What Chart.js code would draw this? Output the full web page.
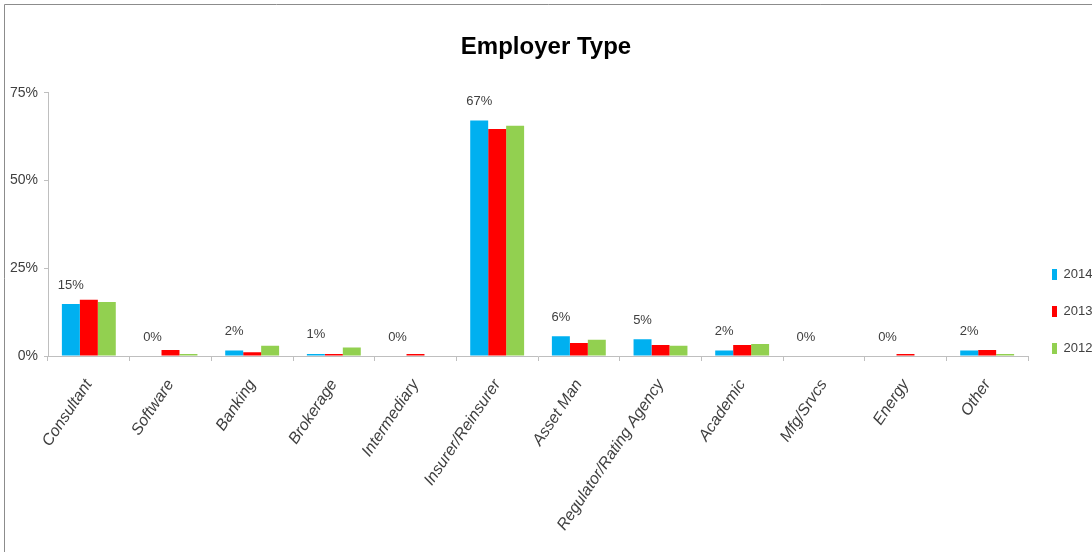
<!DOCTYPE html>
<html>
<head>
<meta charset="utf-8">
<script src="https://cdn.jsdelivr.net/npm/chart.js@4.4.1/dist/chart.umd.min.js"></script>
<style>
  html, body { margin: 0; padding: 0; background: #fff; }
  #wrap { width: 1092px; height: 552px; position: relative; }
</style>
</head>
<body>
<div id="wrap"><canvas id="grafico" width="1092" height="552"></canvas></div>
<script>
const categorias = ["Consultant", "Software", "Banking", "Brokerage", "Intermediary", "Insurer/Reinsurer",
    "Asset Man", "Regulator/Rating Agency", "Academic", "Mfg/Srvcs", "Energy", "Other"];
const anios = ["2014", "2013", "2012"];
const valores2014 = [14.8, 0, 1.6, 0.6, 0, 67.1, 5.6, 4.8, 1.6, 0, 0, 1.6];
const valores2013 = [16.0, 1.7, 1.1, 0.6, 0.6, 64.7, 3.7, 3.1, 3.1, 0, 0.6, 1.7];
const valores2012 = [15.4, 0.6, 2.9, 2.4, 0, 65.6, 4.6, 2.9, 3.4, 0, 0, 0.6];
const ticksY = [0, 25, 50, 75];

const fuente = "'Liberation Sans', Arial, sans-serif";
const gris = "#bfbfbf";
const texto = "#404040";

// marco gris arriba e izquierda
const marco = {
    id: 'marco',
    beforeDraw(chart) {
        const c = chart.ctx;
        c.save();
        c.strokeStyle = "#8c8c8c";
        c.lineWidth = 1;
        c.beginPath();
        c.moveTo(4.5, 552);
        c.lineTo(4.5, 4.5);
        c.lineTo(1092, 4.5);
        c.stroke();
        c.restore();
    }
};

// etiquetas de 2014 encima de la barra azul
const etiquetas = {
    id: 'etiquetas',
    afterDatasetsDraw(chart) {
        const c = chart.ctx;
        const meta = chart.getDatasetMeta(0);
        c.save();
        c.font = "13px " + fuente;
        c.fillStyle = texto;
        c.textAlign = "center";
        c.textBaseline = "middle";
        meta.data.forEach((barra, i) => {
            c.fillText(Math.round(valores2014[i]) + "%", barra.x, barra.y - 19);
        });
        c.restore();
    }
};

new Chart(document.getElementById("grafico").getContext('2d'), {
    type: 'bar',
    data: {
        labels: categorias,
        datasets: [{
            label: anios[0],
            data: valores2014,
            backgroundColor: '#00b0f0'
        }, {
            label: anios[1],
            data: valores2013,
            backgroundColor: '#ff0000'
        }, {
            label: anios[2],
            data: valores2012,
            backgroundColor: '#92d050'
        }]
    },
    options: {
        responsive: false,
        animation: false,
        datasets: {
            bar: { categoryPercentage: 0.66, barPercentage: 1.0 }
        },
        layout: { padding: { left: 0, top: 4, right: 0, bottom: 0 } },
        plugins: {
            title: {
                display: true,
                text: 'Employer Type',
                color: '#000',
                font: { family: fuente, size: 24, weight: 'bold' },
                padding: { top: 29, bottom: 31 }
            },
            legend: {
                position: 'right',
                align: 'start',
                fullSize: true,
                maxWidth: 64,
                title: {
                    display: true,
                    text: ' ',
                    font: { size: 10 },
                    padding: { top: 228, bottom: 0 }
                },
                labels: {
                    color: texto,
                    boxWidth: 5,
                    boxHeight: 11,
                    padding: 24,
                    font: { family: fuente, size: 13 }
                }
            },
            tooltip: { enabled: false }
        },
        scales: {
            x: {
                grid: { display: true, drawOnChartArea: false, drawTicks: true, tickLength: 5, color: gris },
                border: { color: gris },
                ticks: {
                    color: texto,
                    autoSkip: false,
                    minRotation: 56,
                    maxRotation: 56,
                    padding: 15,
                    font: { family: fuente, size: 16, style: 'italic' }
                },
                afterFit: (escala) => { escala.height = 196; }
            },
            y: {
                min: 0,
                max: 75,
                afterBuildTicks: (escala) => { escala.ticks = ticksY.map(v => ({ value: v })); },
                grid: { display: true, drawOnChartArea: false, drawTicks: true, tickLength: 4, color: gris },
                border: { color: gris },
                ticks: {
                    color: texto,
                    padding: 6,
                    font: { family: fuente, size: 14 },
                    callback: (v) => v + "%"
                },
                afterFit: (escala) => { escala.width = 48; }
            }
        }
    },
    plugins: [marco, etiquetas]
});
</script>
</body>
</html>
